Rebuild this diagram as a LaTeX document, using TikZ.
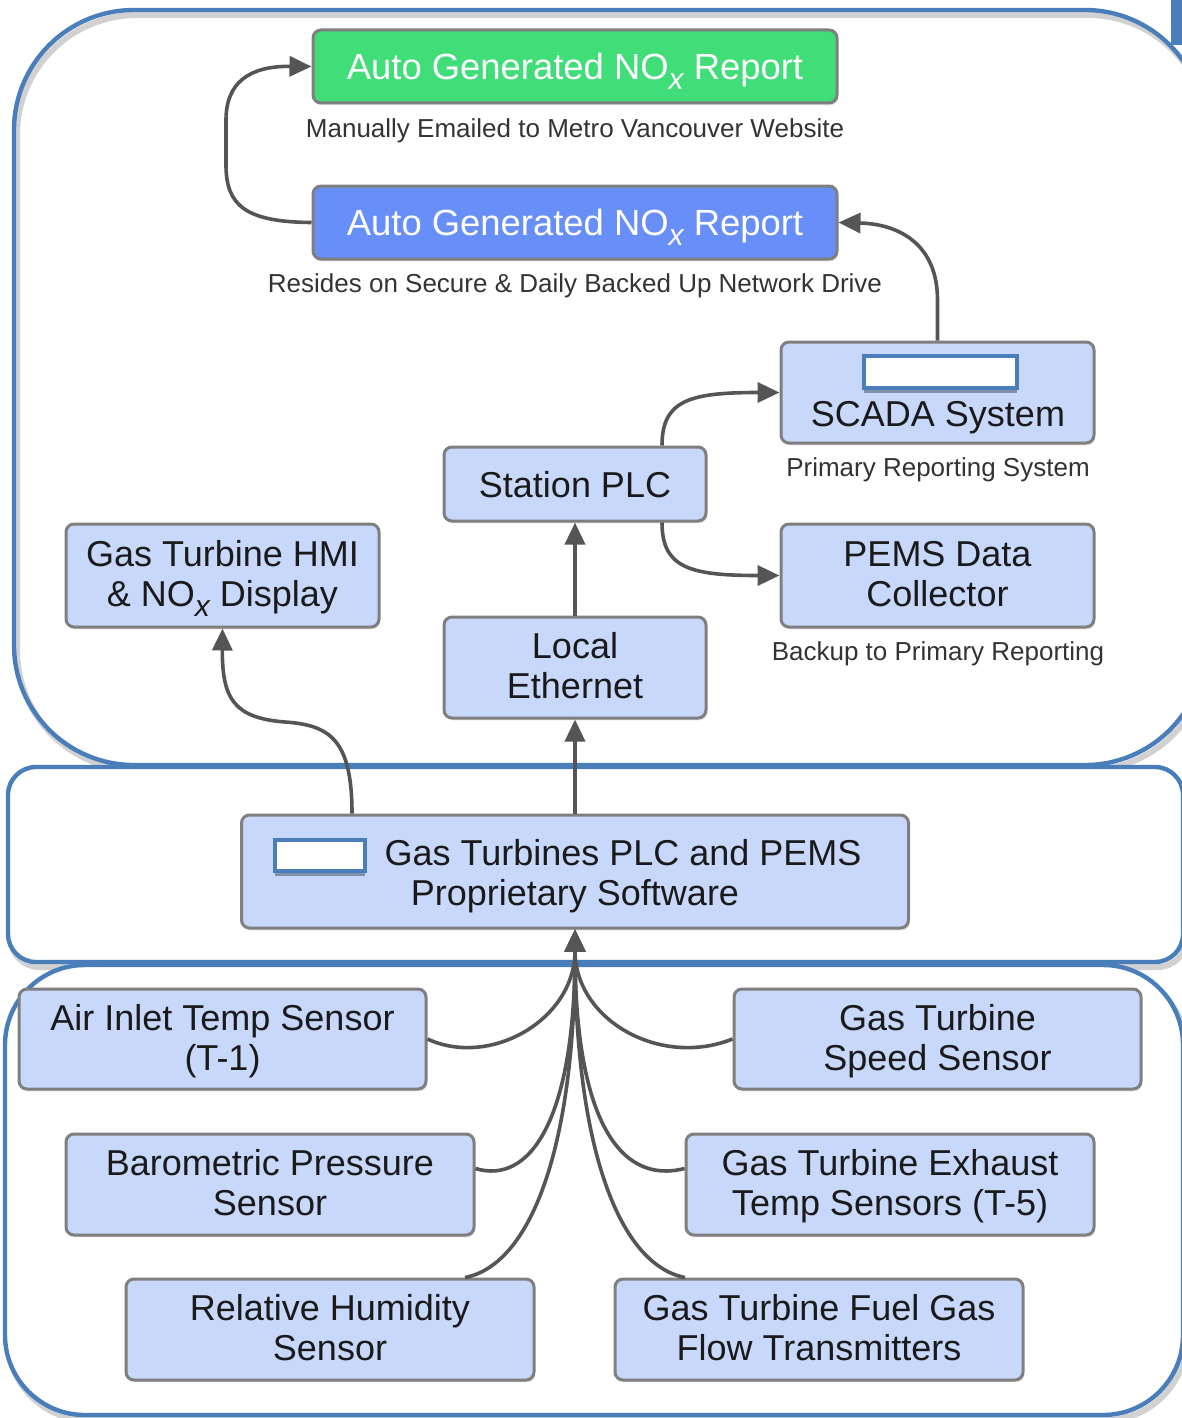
\documentclass[tikz,border=0pt]{standalone}
\usepackage{fontspec}
\setmainfont{Liberation Sans}
\usetikzlibrary{arrows.meta,shadows,calc}
\definecolor{cont}{HTML}{4A7EBB}
\definecolor{boxfill}{HTML}{C8D8FA}
\definecolor{boxborder}{HTML}{7F7F7F}
\definecolor{greenc}{HTML}{40DD78}
\definecolor{bluec}{HTML}{688EF8}
\definecolor{conncol}{HTML}{555555}
\definecolor{txt}{HTML}{1A1A1A}
\definecolor{captxt}{HTML}{333333}
\definecolor{iconshadow}{HTML}{8090A8}
\newcommand{\subx}{\raisebox{-0.28em}{\fontsize{15}{15}\selectfont\itshape x}}
\begin{document}
\begin{tikzpicture}[x=0.5pt,y=-0.5pt,
  box/.style={draw=boxborder, line width=1.5pt, fill=boxfill, rounded corners=4pt,
    inner sep=0pt, align=center, font=\fontsize{18}{20}\selectfont, text=txt,
    drop shadow={shadow xshift=0.6pt,shadow yshift=-1.2pt,opacity=0.22}},
  oneline/.style={text height=13pt, text depth=0pt},
  twoline/.style={text height=31pt, text depth=0pt},
  report/.style={box, oneline, minimum width=262pt, minimum height=36.5pt, text=white,
    font=\fontsize{18.2}{20}\selectfont},
  conn/.style={draw=conncol, line width=1.8pt},
  arr/.style={conn, -{Triangle[length=11pt,width=10pt]}},
  captext/.style={font=\fontsize{13}{15}\selectfont, text=captxt, inner sep=0pt},
  btext/.style={font=\fontsize{18}{20}\selectfont, text=txt, inner sep=0pt, anchor=base},
  container/.style={draw=cont, line width=2.2pt},
  contshadow/.style={draw=black, opacity=0.18, line width=3pt},
  icon/.style={draw=cont, line width=2pt, fill=white, inner sep=0pt,
    drop shadow={shadow xshift=0pt,shadow yshift=-2.6pt,opacity=1,fill=iconshadow}},
]
\useasboundingbox (0,0) rectangle (1182,1418);
\clip (0,0) rectangle (1182,1418);

% containers
\draw[contshadow,rounded corners=60pt] (17,15) rectangle (1208,770);
\draw[container,rounded corners=60pt] (14,10) rectangle (1205,765);
\draw[contshadow,rounded corners=14pt] (11,772) rectangle (1186,967);
\draw[container,fill=white,rounded corners=14pt] (8,767) rectangle (1183,962);
\draw[contshadow,rounded corners=40pt] (8,970) rectangle (1186,1420);
\draw[container,fill=white,rounded corners=40pt] (5,965) rectangle (1183,1415);
\fill[cont] (1171,0) rectangle (1182,45);

% boxes
\node[report, fill=greenc] (green) at (575,66.5) {Auto Generated NO\subx{} Report};
\node[report, fill=bluec] (blue) at (575,222.5) {Auto Generated NO\subx{} Report};
\node[captext] (cap1) at (575,131) {Manually Emailed to Metro Vancouver Website};
\node[captext] (cap2) at (575,286) {Resides on Secure \& Daily Backed Up Network Drive};

\node[box, minimum width=156.5pt, minimum height=50.5pt] (scada) at (937.5,392.5) {};
\node[icon, minimum width=76.5pt, minimum height=16pt] (scadaicon) at (940.5,372) {};
\node[btext] (scadatext) at (938,426) {SCADA System};
\node[captext] (cap3) at (938,470) {Primary Reporting System};

\node[box, oneline, minimum width=131pt, minimum height=37pt] (station) at (575,484) {Station PLC};
\node[box, twoline, minimum width=156.5pt, minimum height=51.5pt] (pems) at (937.5,575.5) {PEMS Data\\Collector};
\node[captext] (cap4) at (938,654) {Backup to Primary Reporting};
\node[box, twoline, minimum width=156.5pt, minimum height=51.5pt] (hmi) at (222.5,575.5) {Gas Turbine HMI\\\& NO\subx{} Display};
\node[box, twoline, minimum width=131pt, minimum height=50.5pt] (ethernet) at (575,667.5) {Local\\Ethernet};

\node[box, minimum width=333.5pt, minimum height=56.5pt] (gtplc) at (575,871.5) {};
\node[icon, minimum width=45pt, minimum height=15.5pt] (gticon) at (320,855.5) {};
\node[btext] (gtline1) at (623,865) {Gas Turbines PLC and PEMS};
\node[btext] (gtline2) at (575,905) {Proprietary Software};

\node[box, twoline, minimum width=203.5pt, minimum height=50pt] (air) at (222.5,1039) {Air Inlet Temp Sensor\\(T-1)};
\node[box, twoline, minimum width=203.5pt, minimum height=50pt] (speed) at (937.5,1039) {Gas Turbine\\Speed Sensor};
\node[box, twoline, minimum width=204pt, minimum height=50.5pt] (baro) at (270,1184.5) {Barometric Pressure\\Sensor};
\node[box, twoline, minimum width=204pt, minimum height=50.5pt] (exhaust) at (890,1184.5) {Gas Turbine Exhaust\\Temp Sensors (T-5)};
\node[box, twoline, minimum width=204pt, minimum height=50.5pt] (humid) at (330,1329.5) {Relative Humidity\\Sensor};
\node[box, twoline, minimum width=204pt, minimum height=50.5pt] (fuel) at (819,1329.5) {Gas Turbine Fuel Gas\\Flow Transmitters};

% connectors
\draw[arr] (blue.west) .. controls (245,222) and (226,205) .. (226,165) -- (226,120) .. controls (226,82) and (250,66) .. (green.west);
\draw[arr] (scada.north) -- (937.5,300) .. controls (937.5,245) and (900,224) .. (blue.east);
\draw[arr] ($(station.north)+(87,0)$) .. controls (662,400) and (690,392.5) .. (scada.west);
\draw[arr] ($(station.south)+(87,0)$) .. controls (662,568) and (690,575.5) .. (pems.west);
\draw[arr] (ethernet.north) -- (station.south);
\draw[arr] (gtplc.north) -- (ethernet.south);
\draw[arr] ($(gtplc.north)+(-223,0)$) .. controls (352,740) and (330,725) .. (285,722) .. controls (235,718) and (222,700) .. (hmi.south);

\draw[arr] (air.east) .. controls (490,1068) and (575,1020) .. (gtplc.south);
\draw[arr] (speed.west) .. controls (660,1068) and (575,1020) .. (gtplc.south);
\draw[arr] ($(baro.east)+(0,-16)$) .. controls (530,1185) and (575,1120) .. (gtplc.south);
\draw[arr] ($(exhaust.west)+(0,-16)$) .. controls (620,1185) and (575,1120) .. (gtplc.south);
\draw[arr] ($(humid.north)+(135,0)$) .. controls (530,1265) and (575,1150) .. (gtplc.south);
\draw[arr] ($(fuel.north)+(-134,0)$) .. controls (620,1265) and (575,1150) .. (gtplc.south);
\end{tikzpicture}
\end{document}
